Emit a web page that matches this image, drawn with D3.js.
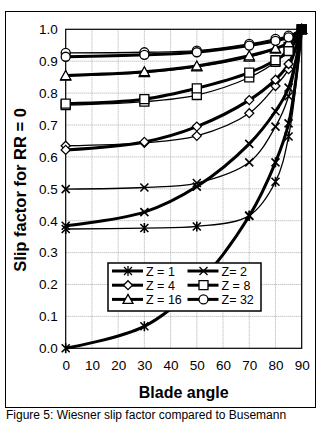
<!DOCTYPE html>
<meta charset="utf-8">
<script src="https://d3js.org/d3.v7.min.js"></script>
<style>
  body { margin: 0; background: #fff; }
  text { font-family: "Liberation Sans", Arial, sans-serif; fill: #000; }
</style>
<div id="chart"></div>
<script>
// blade angles where the points sit
var angles = [0, 30, 50, 70, 80, 85, 90];

// Wiesner (thick lines)
var z1Wiesner  = [0.000, 0.069, 0.198, 0.415, 0.583, 0.705, 1.0];
var z2Wiesner  = [0.384, 0.427, 0.507, 0.641, 0.743, 0.817, 1.0];
var z4Wiesner  = [0.622, 0.647, 0.695, 0.778, 0.842, 0.891, 1.0];
var z8Wiesner  = [0.767, 0.781, 0.815, 0.864, 0.903, 0.932, 1.0];
var z16Wiesner = [0.855, 0.867, 0.885, 0.917, 0.940, 0.958, 1.0];
var z32Wiesner = [0.914, 0.920, 0.928, 0.949, 0.964, 0.975, 1.0];

// Busemann (thin lines)
var z1Busemann  = [0.374, 0.377, 0.382, 0.416, 0.522, 0.664, 1.0];
var z2Busemann  = [0.499, 0.504, 0.518, 0.583, 0.695, 0.790, 1.0];
var z4Busemann  = [0.635, 0.644, 0.666, 0.737, 0.822, 0.875, 1.0];
var z8Busemann  = [0.762, 0.773, 0.794, 0.849, 0.898, 0.945, 1.0];
var z16Busemann = [0.853, 0.864, 0.882, 0.913, 0.938, 0.957, 1.0];
var z32Busemann = [0.926, 0.928, 0.933, 0.954, 0.970, 0.980, 1.0];

var legendLabels = ["Z = 1", "Z= 2", "Z = 4", "Z = 8", "Z = 16", "Z= 32"];
var markerKinds  = ["asterisk", "x", "diamond", "square", "triangle", "circle"];
var xTicks = [0, 10, 20, 30, 40, 50, 60, 70, 80, 90];
var yTicks = [0, 0.1, 0.2, 0.3, 0.4, 0.5, 0.6, 0.7, 0.8, 0.9, 1.0];

var wiesner  = [z1Wiesner, z2Wiesner, z4Wiesner, z8Wiesner, z16Wiesner, z32Wiesner];
var busemann = [z1Busemann, z2Busemann, z4Busemann, z8Busemann, z16Busemann, z32Busemann];

var W = 327, H = 429;
var svg = d3.select("#chart").append("svg")
    .attr("width", W).attr("height", H);

// outer frame
svg.append("rect")
    .attr("x", 5.5).attr("y", 11.5).attr("width", 310).attr("height", 396)
    .attr("fill", "none").attr("stroke", "#000").attr("stroke-width", 1);

var x = d3.scaleLinear().domain([0, 90]).range([65.7, 301.7]);
var y = d3.scaleLinear().domain([0, 1]).range([348.3, 29.3]);

// grid
svg.append("g").selectAll("line").data(xTicks.slice(1, -1)).join("line")
    .attr("x1", d => x(d)).attr("x2", d => x(d))
    .attr("y1", y(0)).attr("y2", y(1))
    .attr("stroke", "#999").attr("stroke-width", 0.8).attr("stroke-dasharray", "1,1");
svg.append("g").selectAll("line").data(yTicks.slice(1, -1)).join("line")
    .attr("x1", x(0)).attr("x2", x(90))
    .attr("y1", d => y(d)).attr("y2", d => y(d))
    .attr("stroke", "#999").attr("stroke-width", 0.8).attr("stroke-dasharray", "1,1");

// plot box
svg.append("rect")
    .attr("x", x(0)).attr("y", y(1))
    .attr("width", x(90) - x(0)).attr("height", y(0) - y(1))
    .attr("fill", "none").attr("stroke", "#000").attr("stroke-width", 1.2);

// axes (labels only)
var xAxis = svg.append("g")
    .attr("transform", "translate(0," + y(0) + ")")
    .call(d3.axisBottom(x).tickValues(xTicks).tickSize(0).tickPadding(12).tickFormat(d3.format("d")));
xAxis.select(".domain").remove();
xAxis.selectAll("text").style("font-size", "13.5px").style("font-family", "Liberation Sans, Arial");

var yAxis = svg.append("g")
    .attr("transform", "translate(" + x(0) + ",0)")
    .call(d3.axisLeft(y).tickValues(yTicks).tickSize(0).tickPadding(8).tickFormat(d3.format(".1f")));
yAxis.select(".domain").remove();
yAxis.selectAll("text").style("font-size", "13.5px").style("font-family", "Liberation Sans, Arial");

// titles
svg.append("text")
    .attr("x", (x(0) + x(90)) / 2).attr("y", 398)
    .attr("text-anchor", "middle")
    .style("font-size", "16px").style("font-weight", "bold")
    .text("Blade angle");

svg.append("text")
    .attr("transform", "translate(26," + 190 + ") rotate(-90)")
    .attr("text-anchor", "middle")
    .style("font-size", "16.5px").style("font-weight", "bold")
    .text("Slip factor for RR = 0");

svg.append("text")
    .attr("x", 6).attr("y", 419)
    .style("font-size", "12px")
    .text("Figure 5: Wiesner slip factor compared to Busemann");

// marker paths
function markerPath(kind) {
  switch (kind) {
    case "square":   return "M-4.5,-4.5h9v9h-9z";
    case "diamond":  return "M0,-4.5L4.5,0L0,4.5L-4.5,0Z";
    case "triangle": return "M0,-5L5,4L-5,4Z";
    case "circle":   return "M4.5,0A4.5,4.5 0 1,1 -4.5,0A4.5,4.5 0 1,1 4.5,0Z";
    case "x":        return "M-4,-4L4,4M-4,4L4,-4";
    case "asterisk": return "M-4,-4L4,4M-4,4L4,-4M0,-5V5";
  }
}

var line = d3.line()
    .x((d, i) => x(angles[i]))
    .y(d => y(d))
    .curve(d3.curveCatmullRom.alpha(0.5));

var curves = svg.append("g");

// thin Busemann lines
busemann.forEach(function(vals) {
  curves.append("path").datum(vals)
    .attr("d", line).attr("fill", "none")
    .attr("stroke", "#000").attr("stroke-width", 1.3);
});
// thick Wiesner lines
wiesner.forEach(function(vals) {
  curves.append("path").datum(vals)
    .attr("d", line).attr("fill", "none")
    .attr("stroke", "#000").attr("stroke-width", 3);
});

// markers
function drawMarkers(vals, kind) {
  curves.append("g").selectAll("path").data(vals).join("path")
    .attr("transform", (d, i) => "translate(" + x(angles[i]) + "," + y(d) + ")")
    .attr("d", markerPath(kind))
    .attr("fill", (kind == "x" || kind == "asterisk") ? "none" : "#fff")
    .attr("stroke", "#000")
    .attr("stroke-width", (kind == "x" || kind == "asterisk") ? 1.6 : 1.3);
}
busemann.forEach((vals, k) => drawMarkers(vals, markerKinds[k]));
wiesner.forEach((vals, k) => drawMarkers(vals, markerKinds[k]));

// endpoint where all curves meet
curves.append("rect")
    .attr("x", x(angles[6]) - 5).attr("y", y(z1Wiesner[6]) - 5)
    .attr("width", 10).attr("height", 10).attr("fill", "#000");

// legend
var legend = svg.append("g").attr("transform", "translate(108,263)");
legend.append("rect")
    .attr("width", 153).attr("height", 48)
    .attr("fill", "#fff").attr("stroke", "#000").attr("stroke-width", 1.5);

var items = legend.selectAll("g.item").data(legendLabels).join("g")
    .attr("class", "item")
    .attr("transform", (d, i) => "translate(" + (i % 2 == 0 ? 4 : 79.5) + "," + (8 + Math.floor(i / 2) * 14.2) + ")");
items.append("line")
    .attr("x1", 0).attr("x2", 31).attr("y1", 0).attr("y2", 0)
    .attr("stroke", "#000").attr("stroke-width", 3);
items.append("path")
    .attr("transform", "translate(16,0)")
    .attr("d", (d, i) => markerPath(markerKinds[i]))
    .attr("fill", (d, i) => i < 2 ? "none" : "#fff")
    .attr("stroke", "#000").attr("stroke-width", 1.3);
items.append("text")
    .attr("x", 34).attr("y", 4.5)
    .style("font-size", "12.5px")
    .text(d => d);
</script>
